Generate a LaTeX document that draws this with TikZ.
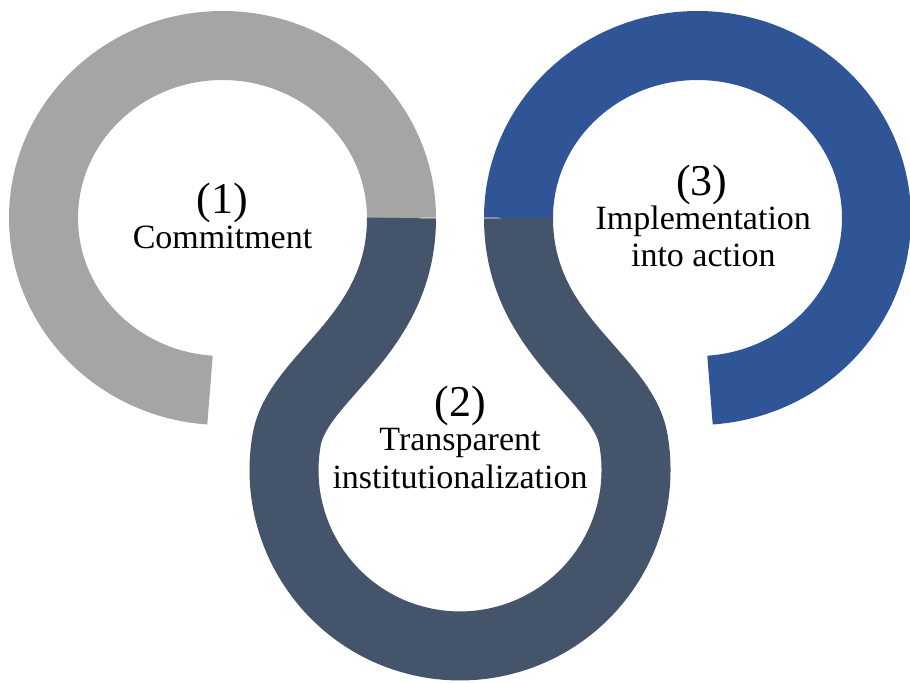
\documentclass[tikz,border=0pt]{standalone}
\usepackage{fontspec}
\setmainfont{Liberation Serif}
\definecolor{ringgray}{RGB}{165,165,165}
\definecolor{ringslate}{RGB}{68,84,106}
\definecolor{ringblue}{RGB}{47,85,151}
\begin{document}
\begin{tikzpicture}[x=0.75pt,y=0.75pt,yscale=-1,xscale=1,
  band/.style={line width=51.75pt},
  numtext/.style={font=\fontsize{33}{36}\selectfont, inner sep=0pt},
  steptext/.style={font=\fontsize{25.5}{28}\selectfont, inner sep=0pt, align=center}]
\useasboundingbox (0,0) rectangle (910,683);

%Shape: Arc [gray ring, step 1]
\draw [band, ringgray] (401.5,218) arc[start angle=0, end angle=-266, x radius=179, y radius=172.5];
%Shape: Arc [blue ring, step 3]
\draw [band, ringblue] (518.5,218) arc[start angle=180, end angle=446, x radius=179, y radius=172.5];
%Shape: Curve [slate loop, step 2]
\draw [band, ringslate] (401.5,218) .. controls (401.5,336) and (297.7,376) .. (286.6,440)
  arc[start angle=189.8, end angle=-9.8, radius=176]
  .. controls (622.3,376) and (518.5,336) .. (518.5,218);

% Text Node (base = last line)
\node (n1) [numtext, anchor=base] at (222.5,213) {(1)};
% Text Node
\node (t1) [steptext, anchor=base] at (222.5,248) {Commitment};
% Text Node
\node (n2) [numtext, anchor=base] at (460,416.7) {(2)};
% Text Node
\node (t2) [steptext, anchor=base] at (460,488) {Transparent\\institutionalization};
% Text Node
\node (n3) [numtext, anchor=base] at (701.7,195) {(3)};
% Text Node
\node (t3) [steptext, anchor=base] at (703.3,266.7) {Implementation\\into action};
\end{tikzpicture}
\end{document}
